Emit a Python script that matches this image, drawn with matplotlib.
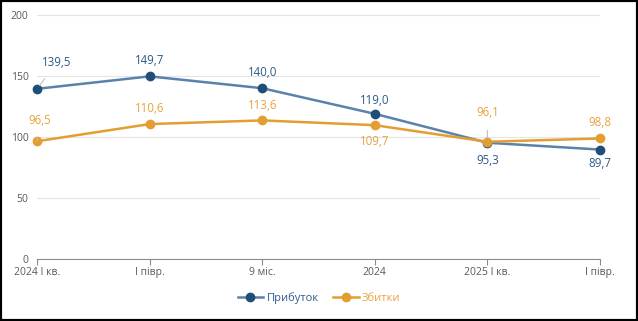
import matplotlib.pyplot as plt
from matplotlib.patches import Rectangle

plt.rcParams['font.family'] = ['Open Sans', 'DejaVu Sans']

periods = ["2024 І кв.", "І півр.", "9 міс.", "2024", "2025 І кв.", "І півр."]
profit = [139.5, 149.7, 140.0, 119.0, 95.3, 89.7]
losses = [96.5, 110.6, 113.6, 109.7, 96.1, 98.8]

# label offsets in pixels (dx, dy) and whether a leader line is drawn
profit_offsets = [(20, 26), (0, 16), (0, 16), (0, 13), (0, -18), (0, -14)]
profit_leader = [True, False, False, False, False, False]
loss_offsets = [(3, 21), (0, 16), (0, 15), (0, -16), (0, 29), (0, 16)]
loss_leader = [True, False, False, False, True, False]

blue_line = "#5a82ab"
blue_mark = "#1f4e79"
blue_text = "#2c5a8a"
orange = "#e39e32"
orange_text = "#e8a33d"

fig = plt.figure(figsize=(6.38, 3.21), dpi=100)
ax = fig.add_axes([37 / 638, 62 / 321, 563 / 638, 244 / 321])

x = list(range(len(periods)))
ax.plot(x, profit, color=blue_line, lw=1.8, marker="o", ms=6,
        mfc=blue_mark, mec=blue_mark, label="Прибуток", zorder=3)
ax.plot(x, losses, color=orange, lw=1.8, marker="o", ms=6,
        mfc=orange, mec=orange, label="Збитки", zorder=3)

def fmt(v):
    return f"{v:.1f}".replace(".", ",")

def put_labels(vals, offsets, leaders, color):
    for i, v in enumerate(vals):
        dx, dy = offsets[i]
        arrow = None
        if leaders[i]:
            arrow = dict(arrowstyle="-", color="#c0c0c0", lw=0.8,
                         shrinkA=6, shrinkB=3)
        ax.annotate(fmt(v), (i, v), xytext=(dx, dy), textcoords="offset pixels",
                    ha="center", va="center", fontsize=8.3, color=color,
                    arrowprops=arrow, zorder=4)

put_labels(profit, profit_offsets, profit_leader, blue_text)
put_labels(losses, loss_offsets, loss_leader, orange_text)

ax.set_xlim(0, 5)
ax.set_ylim(0, 200)
ax.set_yticks([0, 50, 100, 150, 200])
ax.set_xticks(x)
ax.set_xticklabels(periods)
ax.yaxis.grid(True, color="#e4e4e4", lw=0.8)
ax.set_axisbelow(True)
for s in ["top", "right", "left"]:
    ax.spines[s].set_visible(False)
ax.spines["bottom"].set_color("#8c8c8c")
ax.tick_params(axis="y", length=0, pad=6, labelsize=7.5, labelcolor="#595959")
ax.tick_params(axis="x", length=4, color="#8c8c8c", labelsize=7.5,
               labelcolor="#595959", pad=2)
for line in ax.lines:
    line.set_clip_on(False)

leg = fig.legend(loc="center", bbox_to_anchor=(0.5, 1 - 298 / 321), ncol=2,
                 frameon=False, fontsize=8, handlelength=2.3, columnspacing=1.3,
                 handletextpad=0.3)
for t, c in zip(leg.get_texts(), [blue_text, orange_text]):
    t.set_color(c)

fig.patches.append(Rectangle((0, 0), 1, 1, transform=fig.transFigure,
                             fill=False, ec="black", lw=3))

fig.savefig("out.png", dpi=100)
